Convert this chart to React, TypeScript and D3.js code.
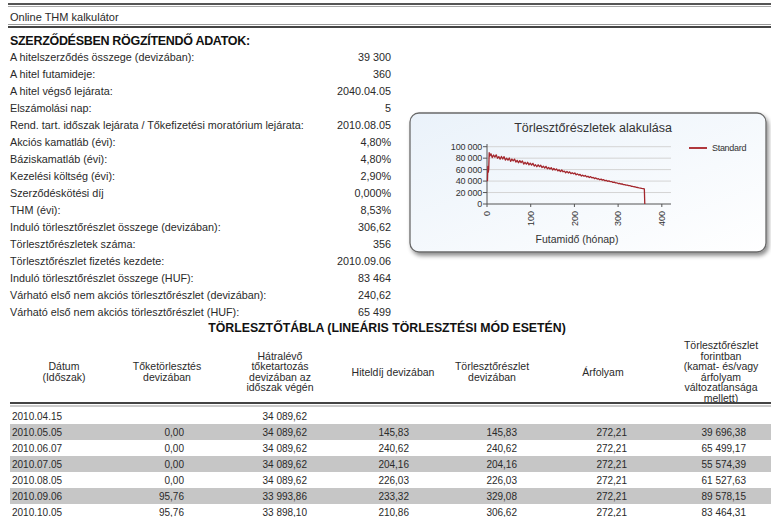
import React from "react";
import * as d3 from "d3";

const infoLabels = [
  "A hitelszerződés összege (devizában):",
  "A hitel futamideje:",
  "A hitel végső lejárata:",
  "Elszámolási nap:",
  "Rend. tart. időszak lejárata / Tőkefizetési moratórium lejárata:",
  "Akciós kamatláb (évi):",
  "Báziskamatláb (évi):",
  "Kezelési költség (évi):",
  "Szerződéskötési díj",
  "THM (évi):",
  "Induló törlesztőrészlet összege (devizában):",
  "Törlesztőrészletek száma:",
  "Törlesztőrészlet fizetés kezdete:",
  "Induló törlesztőrészlet összege (HUF):",
  "Várható első nem akciós törlesztőrészlet (devizában):",
  "Várható első nem akciós törlesztőrészlet (HUF):",
];
const infoValues = [
  "39 300", "360", "2040.04.05", "5", "2010.08.05", "4,80%", "4,80%", "2,90%",
  "0,000%", "8,53%", "306,62", "356", "2010.09.06", "83 464", "240,62", "65 499",
];

const tableHeaders = [
  ["Dátum", "(Időszak)"],
  ["Tőketörlesztés", "devizában"],
  ["Hátralévő", "tőketartozás", "devizában az", "időszak végén"],
  ["Hiteldíj devizában"],
  ["Törlesztőrészlet", "devizában"],
  ["Árfolyam"],
  ["Törlesztőrészlet", "forintban", "(kamat- és/vagy", "árfolyam", "változatlansága", "mellett)"],
];
const dates = ["2010.04.15", "2010.05.05", "2010.06.07", "2010.07.05", "2010.08.05", "2010.09.06", "2010.10.05"];
const principalFx = ["", "0,00", "0,00", "0,00", "0,00", "95,76", "95,76"];
const remainingFx = ["34 089,62", "34 089,62", "34 089,62", "34 089,62", "34 089,62", "33 993,86", "33 898,10"];
const feeFx = ["", "145,83", "240,62", "204,16", "226,03", "233,32", "210,86"];
const installmentFx = ["", "145,83", "240,62", "204,16", "226,03", "329,08", "306,62"];
const exchangeRate = ["", "272,21", "272,21", "272,21", "272,21", "272,21", "272,21"];
const installmentHuf = ["", "39 696,38", "65 499,17", "55 574,39", "61 527,63", "89 578,15", "83 464,31"];

const chartTitle = "Törlesztőrészletek alakulása";
const xAxisTitle = "Futamidő (hónap)";
const seriesName = "Standard";
const yTicks = [0, 20000, 40000, 60000, 80000, 100000];
const xTicks = [0, 100, 200, 300, 400];
const months = [
  1, 2, 3, 4, 5, 6, 9, 12, 15, 18, 21, 24, 27, 30, 33, 36, 39, 42, 45, 48, 51, 54, 57, 60,
  63, 66, 69, 72, 75, 78, 81, 84, 87, 90, 93, 96, 99, 102, 105, 108, 111, 114, 117, 120,
  123, 126, 129, 132, 135, 138, 141, 144, 147, 150, 153, 156, 159, 162, 165, 168, 171, 174,
  177, 180, 183, 186, 189, 192, 195, 198, 201, 204, 207, 210, 213, 216, 219, 222, 225, 228,
  231, 234, 237, 240, 243, 246, 249, 252, 255, 258, 261, 264, 267, 270, 273, 276, 279, 282,
  285, 288, 291, 294, 297, 300, 303, 306, 309, 312, 315, 318, 321, 324, 327, 330, 333, 336,
  339, 342, 345, 348, 351, 354, 357, 360, 361,
];
const payments = [
  39696, 65499, 55574, 61527, 89578, 83464, 87600, 81100, 85500, 81800, 85800, 79900, 82700,
  78200, 83000, 78600, 82600, 76700, 80000, 76300, 80200, 74400, 78500, 75300, 78400, 73100,
  76200, 71900, 75700, 72100, 75200, 69700, 72800, 69600, 72800, 68300, 71300, 67900, 71000,
  66200, 68500, 65000, 68400, 65200, 67600, 63600, 65900, 62800, 65700, 61400, 63600, 61100,
  63400, 59300, 61900, 59400, 61100, 57800, 59700, 56600, 59400, 56300, 57400, 54600, 56900,
  54200, 56100, 53000, 54500, 52600, 54100, 51000, 52600, 50400, 51700, 48900, 50300, 48400,
  49800, 47300, 48400, 46200, 47800, 45700, 46400, 44400, 45600, 43600, 44200, 42300, 43400,
  41700, 42500, 40600, 41200, 39600, 40400, 38900, 39200, 37700, 38300, 36800, 37000, 35700,
  36100, 34900, 35100, 33900, 33900, 32900, 33000, 32000, 31900, 31000, 30900, 30100, 29800,
  29100, 28800, 28100, 27800, 27200, 26700, 26200, 0,
];

const FONT = "'Liberation Sans', Arial, sans-serif";
const TXT = "#2a2a2a";

export default function App() {
  const W = 771, H = 517;
  const x = d3.scaleLinear().domain([0, 421]).range([487, 671]);
  const y = d3.scaleLinear().domain([0, 100000]).range([204, 146.7]);
  const line = d3.line<number>().x((_, i) => x(months[i])).y((d) => y(d));
  const fmt = d3.formatLocale({ decimal: ",", thousands: " ", grouping: [3], currency: ["", ""] }).format(",");

  const rowY = (i: number) => 57.5 + 17.0 * i;
  const headerCx = [64, 167, 280, 393, 492, 603, 721];
  const valueRight = [0, 184, 307, 409, 517, 627, 746];
  const cols = [principalFx, remainingFx, feeFx, installmentFx, exchangeRate, installmentHuf];
  const tRowY = (i: number) => 416 + 16 * i;

  return (
    <div style={{ position: "absolute", left: 0, top: 0 }}>
      <svg width={W} height={H} style={{ display: "block", fontFamily: FONT }}>
        <defs>
          <linearGradient id="boxg" x1="0" y1="0" x2="1" y2="1">
            <stop offset="0" stopColor="#eaf2fa" />
            <stop offset="1" stopColor="#ffffff" />
          </linearGradient>
          <filter id="shadow" x="-5%" y="-5%" width="115%" height="120%">
            <feDropShadow dx="2" dy="3" stdDeviation="2" floodColor="#000" floodOpacity="0.45" />
          </filter>
        </defs>
        <rect x={0} y={0} width={W} height={H} fill="#fff" />
        <line x1={8} x2={W} y1={4} y2={4} stroke="#555" strokeWidth={2} />
        <line x1={8} x2={W} y1={6.5} y2={6.5} stroke="#aaa" strokeWidth={1} />
        <text x={10} y={20.5} fontSize={11} fill={TXT}>Online THM kalkulátor</text>
        <line x1={8} x2={W} y1={24.5} y2={24.5} stroke="#999" strokeWidth={1} />
        <line x1={8} x2={W} y1={27} y2={27} stroke="#444" strokeWidth={2} />
        <text x={10} y={45} fontSize={12.5} fontWeight="bold" fill="#111" letterSpacing={-0.3}>
          SZERZŐDÉSBEN RÖGZÍTENDŐ ADATOK:
        </text>
        {infoLabels.map((l, i) => (
          <g key={l}>
            <text x={10} y={rowY(i)} dy="0.35em" fontSize={10.8} fill={TXT}>{l}</text>
            <text x={391} y={rowY(i)} dy="0.35em" fontSize={10.8} fill={TXT} textAnchor="end">{infoValues[i]}</text>
          </g>
        ))}

        <rect x={410} y={113} width={356} height={139} rx={9} fill="url(#boxg)" stroke="#6a6a6a" strokeWidth={1.3} filter="url(#shadow)" />
        <text x={593} y={128} dy="0.35em" fontSize={12.5} fill="#333" textAnchor="middle">{chartTitle}</text>
        {yTicks.map((t) => (
          <g key={t}>
            {t > 0 && <line x1={487} x2={671} y1={y(t)} y2={y(t)} stroke="#d4d4d4" strokeWidth={1} />}
            <line x1={483} x2={487} y1={y(t)} y2={y(t)} stroke="#555" />
            <text x={482} y={y(t)} dy="0.35em" fontSize={9} fill="#333" textAnchor="end" letterSpacing={-0.2}>{fmt(t)}</text>
          </g>
        ))}
        {xTicks.map((t) => (
          <g key={t}>
            <line x1={x(t)} x2={x(t)} y1={204} y2={207} stroke="#555" />
            <text transform={`translate(${x(t)},${211}) rotate(-90)`} dy="0.35em" fontSize={9} fill="#333" textAnchor="end">{t}</text>
          </g>
        ))}
        <line x1={487} x2={487} y1={144} y2={204} stroke="#555" />
        <line x1={487} x2={671} y1={204} y2={204} stroke="#555" />
        <path d={line(payments) || ""} fill="none" stroke="#a3262c" strokeWidth={1.3} strokeLinejoin="round" />
        <text x={577} y={239} dy="0.35em" fontSize={10.5} fill="#333" textAnchor="middle">{xAxisTitle}</text>
        <line x1={689} x2={707} y1={148} y2={148} stroke="#b0383d" strokeWidth={2} />
        <text x={712} y={148} dy="0.35em" fontSize={9} fill="#333" letterSpacing={-0.3}>{seriesName}</text>

        <text x={387} y={328} dy="0.35em" fontSize={12.3} fontWeight="bold" fill="#111" textAnchor="middle">
          TÖRLESZTŐTÁBLA (LINEÁRIS TÖRLESZTÉSI MÓD ESETÉN)
        </text>
        {tableHeaders.map((lines, c) => (
          <text key={c} x={headerCx[c]} fontSize={10.5} fill={TXT} textAnchor="middle">
            {lines.map((s, k) => (
              <tspan key={k} x={headerCx[c]} y={372 + (k - (lines.length - 1) / 2) * 10.5} dy="0.35em">{s}</tspan>
            ))}
          </text>
        ))}
        {dates.map((d, i) => (
          i % 2 === 1 ? <rect key={"b" + d} x={10} y={tRowY(i) - 8} width={W - 10} height={16} fill="#c6c6c6" /> : null
        ))}
        <line x1={10} x2={W} y1={403} y2={403} stroke="#444" strokeWidth={2} />
        <line x1={10} x2={W} y1={406} y2={406} stroke="#999" strokeWidth={1} />
        {dates.map((d, i) => (
          <g key={d}>
            <text x={12} y={tRowY(i)} dy="0.35em" fontSize={10} fill={TXT}>{d}</text>
            {cols.map((col, c) => (
              col[i] ? <text key={c} x={valueRight[c + 1]} y={tRowY(i)} dy="0.35em" fontSize={10} fill={TXT} textAnchor="end">{col[i]}</text> : null
            ))}
          </g>
        ))}
      </svg>
    </div>
  );
}
